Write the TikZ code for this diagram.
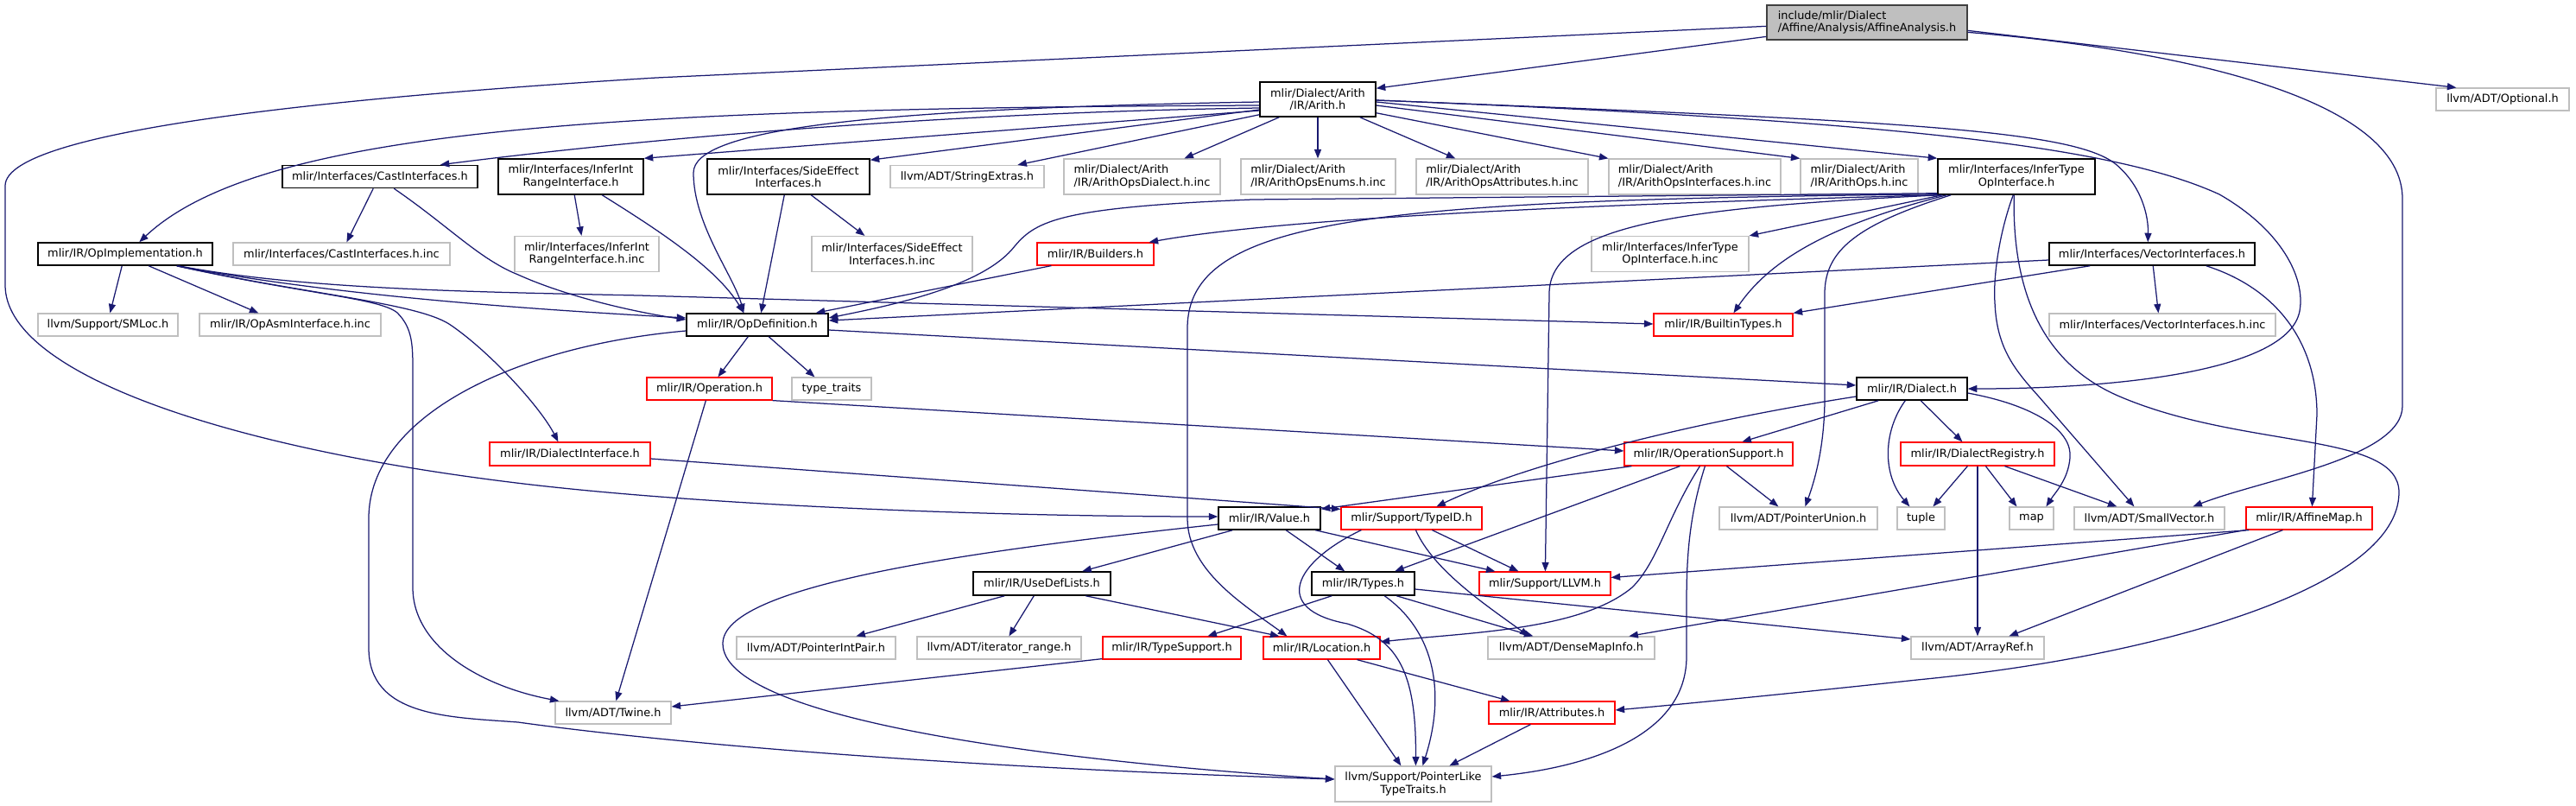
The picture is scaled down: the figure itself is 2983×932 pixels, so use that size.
\documentclass[tikz,border=0pt]{standalone}
\usepackage{fontspec}
\setmainfont{DejaVu Sans}
\usetikzlibrary{arrows.meta,calc}
\definecolor{edgeblue}{HTML}{191970}
\definecolor{lgrey}{HTML}{BFBFBF}
\definecolor{dgrey}{HTML}{404040}
\definecolor{tred}{HTML}{FF0000}
\newcommand\gn[6]{\node[#1,minimum width=#4pt,minimum height=#5pt] (#2) at (#3) {#6};}
\begin{document}
\begin{tikzpicture}[x=1pt,y=-1pt,
  box/.style={rectangle,inner sep=0pt,align=center,font=\fontsize{12.9pt}{14.5pt}\selectfont,fill=white},
  blk/.style={box,draw=black,line width=1.5pt},
  gry/.style={box,draw=lgrey,line width=1.2pt},
  rd/.style={box,draw=tred,line width=1.2pt},
  root/.style={box,draw=dgrey,fill=lgrey,line width=1.3pt},
  lft/.style={align=left},
  edge/.style={draw=edgeblue,line width=1.25pt,-{Triangle[length=10.5pt,width=8pt]}}]
\useasboundingbox[fill=white] (0,0) rectangle (2983,932);
% nodes
\gn{root,lft}{top}{2162,26}{232}{40}{include/mlir/Dialect\\/Affine/Analysis/AffineAnalysis.h}
\gn{blk}{arith}{1526,115}{134}{40}{mlir/Dialect/Arith\\/IR/Arith.h}
\gn{gry}{optional}{2898,115}{154}{26}{llvm/ADT/Optional.h}
\gn{blk}{cast}{440,204.5}{226}{26}{mlir/Interfaces/CastInterfaces.h}
\gn{blk}{inferint}{661,204.5}{168}{41}{mlir/Interfaces/InferInt\\RangeInterface.h}
\gn{blk}{sideeff}{913,204.5}{188}{41}{mlir/Interfaces/SideEffect\\Interfaces.h}
\gn{gry}{strext}{1120,204.5}{178}{26}{llvm/ADT/StringExtras.h}
\gn{gry,lft}{opsdialect}{1322.5,204.5}{181}{41}{mlir/Dialect/Arith\\/IR/ArithOpsDialect.h.inc}
\gn{gry,lft}{opsenums}{1526.5,204.5}{179}{41}{mlir/Dialect/Arith\\/IR/ArithOpsEnums.h.inc}
\gn{gry,lft}{opsattr}{1739.5,204.5}{199}{41}{mlir/Dialect/Arith\\/IR/ArithOpsAttributes.h.inc}
\gn{gry,lft}{opsintf}{1962.5,204.5}{199}{41}{mlir/Dialect/Arith\\/IR/ArithOpsInterfaces.h.inc}
\gn{gry,lft}{opsinc}{2153,204.5}{136}{41}{mlir/Dialect/Arith\\/IR/ArithOps.h.inc}
\gn{blk}{infer}{2335,204.5}{182}{41}{mlir/Interfaces/InferType\\OpInterface.h}
\gn{blk}{opimpl}{145,294}{202}{26}{mlir/IR/OpImplementation.h}
\gn{gry}{castinc}{395.5,294}{251}{26}{mlir/Interfaces/CastInterfaces.h.inc}
\gn{gry}{inferintinc}{679.5,294}{167}{41}{mlir/Interfaces/InferInt\\RangeInterface.h.inc}
\gn{gry}{sideinc}{1033,294}{186}{41}{mlir/Interfaces/SideEffect\\Interfaces.h.inc}
\gn{rd}{builders}{1268.5,294}{135}{26}{mlir/IR/Builders.h}
\gn{gry}{infertinc}{1934,294}{182}{41}{mlir/Interfaces/InferType\\OpInterface.h.inc}
\gn{blk}{vector}{2492,294}{238}{26}{mlir/Interfaces/VectorInterfaces.h}
\gn{gry}{smloc}{125,376}{162}{26}{llvm/Support/SMLoc.h}
\gn{gry}{opasm}{336,376}{210}{26}{mlir/IR/OpAsmInterface.h.inc}
\gn{blk}{opdef}{877,376}{164}{26}{mlir/IR/OpDefinition.h}
\gn{rd}{builtin}{1995.5,376}{161}{26}{mlir/IR/BuiltinTypes.h}
\gn{gry}{vectorinc}{2504,376}{262}{26}{mlir/Interfaces/VectorInterfaces.h.inc}
\gn{rd}{operation}{821.5,450}{145}{26}{mlir/IR/Operation.h}
\gn{gry}{typetraits}{963,450}{92}{26}{type\_traits}
\gn{blk}{dialect}{2214,450}{128}{26}{mlir/IR/Dialect.h}
\gn{rd}{dialintf}{660,525.5}{186}{27}{mlir/IR/DialectInterface.h}
\gn{rd}{opsupport}{1978.5,525.5}{195}{27}{mlir/IR/OperationSupport.h}
\gn{rd}{registry}{2290,525.5}{178}{27}{mlir/IR/DialectRegistry.h}
\gn{blk}{value}{1470,600}{118}{26}{mlir/IR/Value.h}
\gn{rd}{typeid}{1634.5,600}{163}{26}{mlir/Support/TypeID.h}
\gn{gry}{ptrunion}{2082.5,600}{183}{26}{llvm/ADT/PointerUnion.h}
\gn{gry}{tuple}{2224.5,600}{55}{26}{tuple}
\gn{gry}{map}{2352.5,600}{51}{26}{map}
\gn{gry}{smallvec}{2489,600}{174}{26}{llvm/ADT/SmallVector.h}
\gn{rd}{affinemap}{2674,600}{146}{26}{mlir/IR/AffineMap.h}
\gn{blk}{usedef}{1206.5,675.5}{159}{27}{mlir/IR/UseDefLists.h}
\gn{blk}{types}{1578.5,675.5}{119}{27}{mlir/IR/Types.h}
\gn{rd}{llvmh}{1789,675.5}{152}{27}{mlir/Support/LLVM.h}
\gn{gry}{ptrintpair}{945,750}{184}{26}{llvm/ADT/PointerIntPair.h}
\gn{gry}{iterrange}{1157,750}{190}{26}{llvm/ADT/iterator\_range.h}
\gn{rd}{typesupport}{1357,750}{160}{26}{mlir/IR/TypeSupport.h}
\gn{rd}{location}{1530.5,750}{135}{26}{mlir/IR/Location.h}
\gn{gry}{densemap}{1819.5,750}{193}{26}{llvm/ADT/DenseMapInfo.h}
\gn{gry}{arrayref}{2290,750}{154}{26}{llvm/ADT/ArrayRef.h}
\gn{gry}{twine}{710,825}{134}{26}{llvm/ADT/Twine.h}
\gn{rd}{attributes}{1797,825}{146}{26}{mlir/IR/Attributes.h}
\gn{gry}{ptrlike}{1636.5,907.5}{181}{41}{llvm/Support/PointerLike\\TypeTraits.h}
% edges from root
\draw[edge] ($(top.north west)+(0,37)$) -- ($(arith.north east)+(0,8)$);
\draw[edge] ($(top.north east)+(0,30)$) -- ($(optional.north west)+(24,0)$);
\draw[edge] ($(top.north east)+(0,32)$) .. controls (2550,60) and (2782,120) .. (2782,230) -- (2782,470) .. controls (2782,530) and (2620,555) .. ($(smallvec.north west)+(138,0)$);
\draw[edge] ($(top.north west)+(0,25)$) -- (760,90) .. controls (400,112) and (6,150) .. (6,215) -- (6,330) .. controls (6,430) and (250,515) .. (582,557) .. controls (800,585) and (1150,598) .. ($(value.west)+(0,-2)$);
% arith
\draw[edge] ($(arith.west)+(0,7)$) .. controls (700,125) and (300,150) .. ($(opimpl.north west)+(118,0)$);
\draw[edge] ($(arith.west)+(0,10)$) .. controls (1100,130) and (750,160) .. ($(cast.north east)+(-44,0)$);
\draw[edge] ($(arith.west)+(0,13)$) -- (inferint.north east);
\draw[edge] ($(arith.west)+(0,3)$) .. controls (1000,126) and (803,150) .. (803,200) .. controls (803,260) and (850,320) .. ($(opdef.north west)+(67,0)$);
\draw[edge] ($(arith.west)+(0,12)$) -- ($(sideeff.north east)+(0,2)$);
\draw[edge] ($(arith.south west)+(0,-3)$) -- ($(strext.north west)+(148,0)$);
\draw[edge] ($(arith.south west)+(23,0)$) -- ($(opsdialect.north west)+(140,0)$);
\draw[edge] (arith.south) -- (arith.south |- opsenums.north);
\draw[edge] ($(arith.south east)+(-19,0)$) -- ($(opsattr.north west)+(46,0)$);
\draw[edge] ($(arith.south east)+(0,-5)$) -- (opsintf.north west);
\draw[edge] ($(arith.east)+(0,7)$) -- (opsinc.north west);
\draw[edge] ($(arith.east)+(0,3)$) -- (infer.north west);
\draw[edge] ($(arith.east)+(0,1)$) .. controls (2200,140) and (2400,150) .. (2450,190) .. controls (2480,215) and (2488,250) .. ($(vector.north west)+(115,0)$);
\draw[edge] ($(arith.east)+(0,1)$) .. controls (2200,140) and (2450,170) .. (2570,225) .. controls (2640,265) and (2670,320) .. (2663,360) .. controls (2650,430) and (2450,450) .. (dialect.east);
% opimpl
\draw[edge] ($(opimpl.south west)+(98,0)$) -- ($(smloc.north west)+(84,0)$);
\draw[edge] ($(opimpl.south west)+(129,0)$) -- ($(opasm.north west)+(69,0)$);
\draw[edge] ($(opimpl.south east)+(-42,0)$) .. controls (400,345) and (650,360) .. ($(opdef.west)+(0,-8)$);
\draw[edge] ($(opimpl.south east)+(-40,0)$) .. controls (350,335) and (550,338) .. (740,342) -- ($(builtin.west)+(0,-1)$);
\draw[edge] ($(opimpl.south east)+(-42,0)$) .. controls (350,340) and (480,350) .. (520,375) .. controls (565,405) and (625,470) .. ($(dialintf.north west)+(80,0)$);
\draw[edge] ($(opimpl.south east)+(-42,0)$) .. controls (350,340) and (440,345) .. (460,362) .. controls (478,380) and (478,400) .. (478,430) -- (478,680) .. controls (478,750) and (560,795) .. ($(twine.north west)+(5,0)$);
% interfaces
\draw[edge] ($(cast.south west)+(106,0)$) -- ($(castinc.north west)+(132,0)$);
\draw[edge] ($(cast.south west)+(130,0)$) .. controls (520,262) and (555,300) .. (600,318) .. controls (660,345) and (740,362) .. ($(opdef.west)+(0,-6)$);
\draw[edge] ($(inferint.south west)+(89,0)$) -- ($(inferintinc.north west)+(78,0)$);
\draw[edge] ($(inferint.south west)+(121,0)$) .. controls (760,265) and (830,310) .. ($(opdef.north west)+(67,0)$);
\draw[edge] ($(sideeff.south west)+(121,0)$) -- ($(sideinc.north west)+(62,0)$);
\draw[edge] ($(sideeff.south west)+(90,0)$) -- ($(opdef.north west)+(87,0)$);
\draw[edge] ($(builders.south west)+(17,0)$) -- ($(opdef.north east)+(-15,0)$);
% infer
\draw[edge] ($(infer.south west)+(0,-2)$) -- (1450,231) .. controls (1230,240) and (1200,255) .. (1175,285) .. controls (1140,330) and (1040,352) .. ($(opdef.east)+(0,-8)$);
\draw[edge] (infer.south west) .. controls (1900,235) and (1500,250) .. ($(builders.north east)+(-6,0)$);
\draw[edge] ($(infer.south west)+(6,0)$) -- (infertinc.north east);
\draw[edge] ($(infer.south west)+(11,0)$) .. controls (2120,260) and (2050,300) .. ($(builtin.north west)+(93,0)$);
\draw[edge] ($(infer.south west)+(0,-1)$) .. controls (1600,232) and (1375,250) .. (1375,380) -- (1375,600) .. controls (1375,660) and (1440,700) .. ($(location.north west)+(28,0)$);
\draw[edge] ($(infer.south west)+(4,0)$) .. controls (1950,240) and (1794,260) .. (1794,340) -- ($(llvmh.north west)+(77,0)$);
\draw[edge] ($(infer.south west)+(16,0)$) .. controls (2150,260) and (2113,290) .. (2113,340) -- (2113,460) .. controls (2113,520) and (2100,560) .. ($(ptrunion.north west)+(100,0)$);
\draw[edge] ($(infer.south west)+(88,0)$) .. controls (2315,270) and (2308,320) .. (2310,350) .. controls (2312,400) and (2330,425) .. (2360,458) -- ($(smallvec.north west)+(70,0)$);
\draw[edge] ($(infer.south west)+(89,0)$) .. controls (2330,330) and (2360,420) .. (2457,460) .. controls (2600,520) and (2778,500) .. (2778,570) .. controls (2778,680) and (2500,760) .. (2220,787) .. controls (2100,800) and (1950,815) .. ($(attributes.east)+(0,-3)$);
% vector
\draw[edge] ($(vector.south west)+(121,0)$) -- ($(vectorinc.north west)+(127,0)$);
\draw[edge] ($(vector.west)+(0,7)$) -- ($(opdef.east)+(0,-5)$);
\draw[edge] ($(vector.south west)+(48,0)$) -- (builtin.north east);
\draw[edge] ($(vector.south east)+(-57,0)$) .. controls (2640,335) and (2683,400) .. (2683,480) -- ($(affinemap.north west)+(77,0)$);
% affinemap
\draw[edge] ($(affinemap.south west)+(4,0)$) -- ($(llvmh.east)+(0,-7)$);
\draw[edge] (affinemap.south west) -- ($(densemap.north west)+(164,0)$);
\draw[edge] ($(affinemap.south west)+(43,0)$) -- ($(arrayref.north west)+(114,0)$);
% opdef
\draw[edge] ($(opdef.south west)+(72,0)$) -- ($(operation.north west)+(83,0)$);
\draw[edge] ($(opdef.south west)+(96,0)$) -- ($(typetraits.north west)+(27,0)$);
\draw[edge] ($(opdef.east)+(0,6)$) -- ($(dialect.west)+(0,-4)$);
\draw[edge] ($(opdef.west)+(0,7)$) .. controls (600,400) and (427,480) .. (427,600) -- (427,750) .. controls (427,830) and (520,830) .. (600,836) .. controls (700,850) and (1000,885) .. ($(ptrlike.west)+(0,-5.5)$);
% operation, dialect interface
\draw[edge] ($(operation.south west)+(69,0)$) -- ($(twine.north west)+(71,0)$);
\draw[edge] (operation.south east) -- ($(opsupport.west)+(0,-3.5)$);
\draw[edge] ($(dialintf.east)+(0,5.5)$) -- ($(typeid.north west)+(0,3)$);
% operation support
\draw[edge] ($(opsupport.south west)+(9,0)$) -- ($(value.north east)+(0,3)$);
\draw[edge] ($(opsupport.south west)+(65,0)$) -- ($(types.north west)+(97,0)$);
\draw[edge] ($(opsupport.south west)+(88,0)$) .. controls (1930,600) and (1920,650) .. (1890,680) .. controls (1830,730) and (1700,732) .. ($(location.east)+(0,-7)$);
\draw[edge] ($(opsupport.south west)+(94,0)$) .. controls (1955,600) and (1953,650) .. (1953,700) -- (1953,760) .. controls (1953,860) and (1820,890) .. ($(ptrlike.east)+(0,-8.5)$);
\draw[edge] ($(opsupport.south west)+(119,0)$) -- ($(ptrunion.north west)+(69,0)$);
% dialect
\draw[edge] ($(dialect.south west)+(26,0)$) -- ($(opsupport.north west)+(137,0)$);
\draw[edge] ($(dialect.west)+(0,9)$) .. controls (1950,490) and (1760,540) .. ($(typeid.north west)+(111,0)$);
\draw[edge] ($(dialect.south west)+(75,0)$) -- ($(registry.north west)+(72,0)$);
\draw[edge] ($(dialect.south west)+(57,0)$) .. controls (2180,500) and (2180,550) .. ($(tuple.north west)+(15,0)$);
\draw[edge] ($(dialect.east)+(0,5)$) .. controls (2360,470) and (2400,500) .. (2397,530) .. controls (2395,555) and (2380,570) .. ($(map.north west)+(43,0)$);
% registry
\draw[edge] ($(registry.south west)+(78,0)$) -- ($(tuple.north west)+(42,0)$);
\draw[edge] ($(registry.south west)+(99,0)$) -- ($(map.north west)+(9,0)$);
\draw[edge] ($(registry.south west)+(121,0)$) -- ($(smallvec.north west)+(50,0)$);
\draw[edge] (registry.south) -- (arrayref.north);
% value
\draw[edge] ($(value.south west)+(79,0)$) -- ($(types.north west)+(39,0)$);
\draw[edge] ($(value.south west)+(113,0)$) -- ($(llvmh.north west)+(19,0)$);
\draw[edge] ($(value.south west)+(17,0)$) -- ($(usedef.north west)+(127,0)$);
\draw[edge] ($(value.west)+(0,7)$) .. controls (1100,640) and (837,680) .. (837,745) .. controls (837,830) and (1200,880) .. ($(ptrlike.west)+(0,-5.5)$);
% typeid
\draw[edge] ($(typeid.south west)+(106,0)$) -- ($(llvmh.north west)+(46,0)$);
\draw[edge] ($(typeid.south west)+(87,0)$) .. controls (1660,660) and (1720,700) .. ($(densemap.north west)+(48,0)$);
\draw[edge] ($(typeid.south west)+(24,0)$) .. controls (1500,650) and (1470,705) .. (1560,722) .. controls (1620,740) and (1640,780) .. ($(ptrlike.north west)+(94,0)$);
% usedef
\draw[edge] ($(usedef.south west)+(37,0)$) -- ($(ptrintpair.north west)+(139,0)$);
\draw[edge] ($(usedef.south west)+(71,0)$) -- ($(iterrange.north west)+(107,0)$);
\draw[edge] ($(usedef.south west)+(131,0)$) -- ($(location.north west)+(19,0)$);
% types
\draw[edge] ($(types.south west)+(24,0)$) -- ($(typesupport.north west)+(122,0)$);
\draw[edge] ($(types.south west)+(99,0)$) -- ($(densemap.north west)+(53,0)$);
\draw[edge] ($(types.south west)+(85,0)$) .. controls (1660,730) and (1675,800) .. ($(ptrlike.north west)+(102,0)$);
\draw[edge] ($(types.east)+(0,6.5)$) -- ($(arrayref.west)+(0,-10)$);
% location, attributes, typesupport
\draw[edge] ($(location.south west)+(75,0)$) -- ($(ptrlike.north west)+(77,0)$);
\draw[edge] ($(location.south west)+(109,0)$) -- ($(attributes.north west)+(25,0)$);
\draw[edge] ($(attributes.south west)+(49,0)$) -- ($(ptrlike.north west)+(133,0)$);
\draw[edge] ($(typesupport.south west)+(0,-1)$) -- ($(twine.east)+(0,-7)$);
\end{tikzpicture}
\end{document}
